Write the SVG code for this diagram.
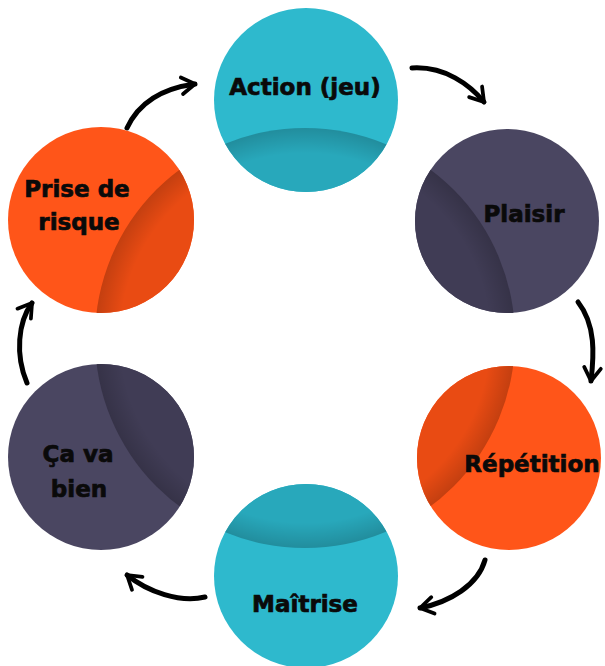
<svg xmlns="http://www.w3.org/2000/svg" width="605" height="666" viewBox="0 0 605 666">
  <style>
    .teal { fill: #2EB9CD; }
    .teal-d { fill: #28A8BB; }
    .slate { fill: #4A4661; }
    .slate-d { fill: #403C55; }
    .orange { fill: #FF5519; }
    .orange-d { fill: #E94B13; }
    .lbl { font-family: "DejaVu Sans", "Noto Sans", sans-serif; font-weight: bold; font-size: 23px; fill: #0A0A0A; stroke: #0A0A0A; stroke-width: 0.7; text-anchor: middle; }
    .arrow { fill: none; stroke: #000000; stroke-width: 5; stroke-linecap: round; marker-end: url(#ah); }
  </style>
  <defs>
    <clipPath id="inner"><circle cx="305" cy="338" r="210"/></clipPath>
    <radialGradient id="shade" gradientUnits="userSpaceOnUse" cx="305" cy="338" r="210">
      <stop offset="0" stop-color="#000" stop-opacity="0"/>
      <stop offset="0.88" stop-color="#000" stop-opacity="0"/>
      <stop offset="1" stop-color="#000" stop-opacity="0.16"/>
    </radialGradient>
    <marker id="ah" viewBox="0 0 10 10" refX="8" refY="5" markerWidth="4.4" markerHeight="4.4" orient="auto" markerUnits="strokeWidth">
      <path d="M2,1.2 L8,5 L2,8.8" fill="none" stroke="#000" stroke-width="1.7" stroke-linecap="round" stroke-linejoin="round"/>
    </marker>
  </defs>
  <rect width="605" height="666" fill="#FFFFFF"/>

  <g id="connectors">
    <path class="arrow" d="M127,128 C140,100 165,88 195,84"/>
    <path class="arrow" d="M412,68 C445,66 470,85 484,102"/>
    <path class="arrow" d="M578,302 C596,325 594,355 591,381"/>
    <path class="arrow" d="M485,560 C478,585 450,602 420,608"/>
    <path class="arrow" d="M205,597 C180,603 148,592 127,575"/>
    <path class="arrow" d="M27,383 C15,355 18,322 32,303"/>
  </g>

  <g id="node-action">
    <circle class="teal" cx="306" cy="100" r="92"/>
    <g clip-path="url(#inner)">
      <circle class="teal-d" cx="306" cy="100" r="92"/>
      <circle cx="306" cy="100" r="92" fill="url(#shade)"/>
    </g>
    <text class="lbl" x="305" y="95">Action (jeu)</text>
  </g>

  <g id="node-plaisir">
    <circle class="slate" cx="507" cy="221" r="92"/>
    <g clip-path="url(#inner)">
      <circle class="slate-d" cx="507" cy="221" r="92"/>
      <circle cx="507" cy="221" r="92" fill="url(#shade)"/>
    </g>
    <text class="lbl" x="524" y="222">Plaisir</text>
  </g>

  <g id="node-repetition">
    <circle class="orange" cx="509" cy="458" r="92"/>
    <g clip-path="url(#inner)">
      <circle class="orange-d" cx="509" cy="458" r="92"/>
      <circle cx="509" cy="458" r="92" fill="url(#shade)"/>
    </g>
    <text class="lbl" x="532" y="472">Répétition</text>
  </g>

  <g id="node-maitrise">
    <circle class="teal" cx="306" cy="576" r="92"/>
    <g clip-path="url(#inner)">
      <circle class="teal-d" cx="306" cy="576" r="92"/>
      <circle cx="306" cy="576" r="92" fill="url(#shade)"/>
    </g>
    <text class="lbl" x="305" y="612">Maîtrise</text>
  </g>

  <g id="node-cavabien">
    <circle class="slate" cx="101" cy="457" r="93"/>
    <g clip-path="url(#inner)">
      <circle class="slate-d" cx="101" cy="457" r="93"/>
      <circle cx="101" cy="457" r="93" fill="url(#shade)"/>
    </g>
    <text class="lbl" x="78" y="462">Ça va</text>
    <text class="lbl" x="79" y="497">bien</text>
  </g>

  <g id="node-prise">
    <circle class="orange" cx="101" cy="220" r="93"/>
    <g clip-path="url(#inner)">
      <circle class="orange-d" cx="101" cy="220" r="93"/>
      <circle cx="101" cy="220" r="93" fill="url(#shade)"/>
    </g>
    <text class="lbl" x="77" y="197">Prise de</text>
    <text class="lbl" x="79" y="230">risque</text>
  </g>
</svg>
